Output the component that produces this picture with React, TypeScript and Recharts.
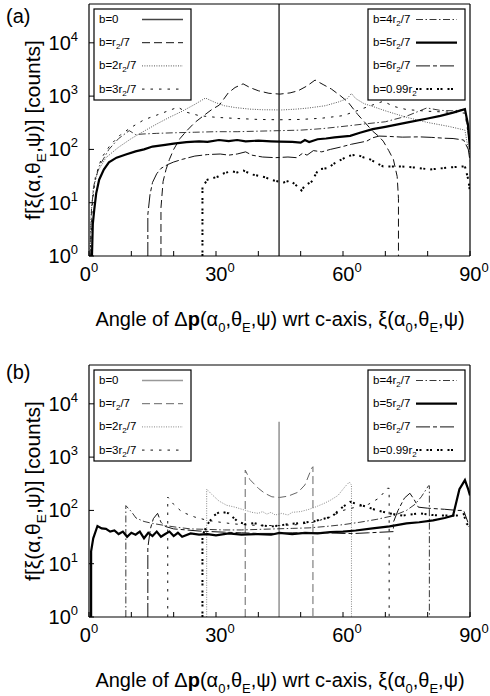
import { Line, LineChart, XAxis, YAxis } from 'recharts'

type Pt = [number, number]

// ---- panel (a): all events, one series per impact parameter b ----
const A_B0: Pt[] = [[44.9, 1], [44.9, 53500]]
const A_B1: Pt[] = [
  [17, 1], [17, 8], [17.5, 25], [18.2, 42], [19, 65], [20, 100], [21.5, 160], [23, 220],
  [25, 320], [27, 425], [29, 560], [30.8, 680], [32.9, 1150], [34.5, 1450], [36.4, 1700],
  [38, 1450], [40, 1260], [42.5, 1130], [45.1, 1090], [47.5, 1150], [49.4, 1260],
  [51.5, 1550], [53.4, 2000], [55.3, 1650], [57.3, 1350], [59.5, 1000], [61.2, 770],
  [63.5, 450], [65.5, 300], [67, 220], [68.3, 180], [69.5, 143], [70.8, 95], [71.9, 65],
  [72.8, 31], [73.1, 12], [73.1, 1],
]
const A_B2: Pt[] = [
  [0.2, 1], [0.5, 6], [1, 18], [2, 38], [4, 70], [7, 110], [10, 160], [13, 220], [16, 300],
  [19, 400], [22, 520], [25, 700], [27.5, 920], [29.8, 760], [32, 660], [34.5, 610],
  [38, 570], [41, 555], [45.5, 550], [49, 570], [52, 600], [55.8, 660], [59, 780],
  [61, 900], [62, 1120], [63, 900], [65, 720], [67, 640], [70, 530], [75, 400], [80, 320],
  [85, 270], [88.8, 230], [89.6, 100], [90, 80],
]
const A_B3: Pt[] = [
  [0.3, 1], [0.8, 10], [1.5, 30], [3, 70], [5, 120], [7.5, 190], [10, 260], [13, 360],
  [16, 440], [19, 540], [21, 620], [23, 500], [26, 430], [30, 400], [35, 380], [40, 365],
  [45, 360], [50, 365], [55, 385], [60, 430], [63, 520], [66, 640], [69.5, 800], [72, 640],
  [75, 560], [80, 520], [85, 500], [88.8, 480], [89.8, 150],
]
const A_B4: Pt[] = [
  [0.3, 1], [0.6, 8], [1.2, 22], [2.4, 48], [4.7, 100], [7, 160], [9.5, 225], [11, 190],
  [13, 195], [16, 200], [20, 205], [25, 210], [30, 215], [35, 215], [40, 220], [45, 225],
  [50, 230], [55, 245], [60, 270], [65, 300], [70, 330], [75, 420], [79.8, 600], [83, 540],
  [86, 530], [88.8, 560], [89.8, 150],
]
const A_B5: Pt[] = [
  [0.7, 1], [0.9, 4], [1.25, 7.5], [1.7, 15], [2.4, 27], [3.5, 42], [4.7, 57], [6.5, 70],
  [8.7, 80], [11, 92], [13, 100], [15, 113], [18, 122], [20, 128], [23, 137], [26, 142],
  [28, 138], [30.7, 150], [33, 143], [35, 150], [37, 142], [40, 146], [43, 142], [45, 140],
  [48, 138], [50, 134], [51, 150], [52, 138], [54, 155], [56, 160], [58, 168], [61.7, 180],
  [64, 205], [67, 240], [70, 265], [75, 318], [80, 380], [83, 425], [86, 490], [88.8, 570],
  [89.5, 300], [90, 100],
]
const A_B6: Pt[] = [
  [13.9, 1], [13.9, 6], [14.4, 14], [15, 24], [16, 35], [17, 44], [18.6, 52], [20, 58],
  [22, 65], [25, 75], [28, 80], [31, 82], [33, 78], [35, 82], [37, 90], [38.5, 78], [41, 72],
  [44, 70], [47, 72], [49, 70], [50.5, 85], [51.5, 78], [53, 95], [55, 90], [57, 100],
  [59.3, 110], [62, 125], [65.6, 143], [67, 165], [68.5, 178], [71, 175], [74, 170],
  [78, 172], [81, 168], [84, 162], [86, 160], [88.5, 150], [89.6, 100], [90, 60],
]
const A_B7: Pt[] = [
  [26.8, 1], [26.8, 20], [28, 27], [30.5, 31], [32, 36], [33.7, 39], [35, 37], [36.5, 40],
  [38.4, 34], [40, 32], [41.6, 30], [43, 27], [44.7, 25], [46, 24], [47.5, 26], [48.7, 22],
  [50.2, 17], [51, 21], [52.6, 25], [54.2, 42], [56.5, 45], [58, 55], [59.7, 65],
  [61.2, 75], [63.2, 80], [65, 70], [66.4, 65], [68, 55], [69.5, 48], [73.5, 48],
  [76.6, 46], [80.6, 42], [83, 44], [85.3, 46], [88.8, 48], [89.6, 27], [90, 16],
]

// ---- panel (b) ----
const B_B0: Pt[] = [[44.9, 1], [44.9, 4600]]
const B_B1: Pt[] = [
  [36.9, 1], [36.9, 570], [38, 380], [40, 260], [41.5, 210], [43.2, 180], [45, 175],
  [47, 185], [49.4, 220], [51, 300], [52.6, 620], [52.9, 660], [52.9, 1],
]
const B_B2: Pt[] = [
  [27.8, 1], [27.8, 250], [29, 200], [30.7, 150], [32.5, 125], [34.5, 115], [37, 100],
  [38.5, 92], [40, 88], [41, 95], [42, 85], [43, 92], [44, 82], [45.5, 88], [47, 82],
  [48, 92], [50, 95], [52, 105], [53.4, 115], [55.5, 135], [57, 155], [58.8, 190],
  [60.5, 280], [61.5, 340], [62, 300], [62, 1],
]
const B_B3: Pt[] = [
  [18.6, 1], [18.6, 178], [20, 130], [22, 93], [25, 75], [28, 65], [31, 60], [34, 56],
  [38, 53], [42, 52], [45, 52], [49, 54], [53, 60], [57, 75], [60, 100], [63, 115],
  [66, 130], [68.5, 170], [70.5, 260], [70.9, 260], [70.9, 1],
]
const B_B4: Pt[] = [
  [8.7, 1], [8.7, 123], [10, 95], [11.1, 72], [13, 62], [15, 57], [18, 52], [21, 48],
  [24, 45], [28, 44], [32, 43], [36, 43], [40, 44], [44, 45], [48, 46], [52, 47], [56, 50],
  [60, 54], [64, 60], [68, 68], [72, 80], [75, 100], [77, 130], [78.5, 180], [80.2, 290],
  [80.4, 290], [80.4, 1],
]
const B_B5: Pt[] = [
  [0.5, 1], [0.5, 17], [1, 30], [2, 51], [3, 46], [4, 45], [5, 40], [6, 42], [7, 36],
  [8, 40], [9, 32], [10, 38], [11, 35], [12, 40], [13, 30], [14, 38], [15, 33], [16, 40],
  [17, 32], [18, 36], [19, 40], [20, 33], [21, 38], [22, 32], [24, 37], [26, 35], [28, 36],
  [30, 34], [33, 37], [36, 35], [40, 36], [43, 35], [45, 38], [48, 36], [51, 38], [54, 37],
  [57, 39], [60, 40], [63, 42], [67, 46], [71, 50], [75, 57], [78, 60], [81.3, 65],
  [84, 72], [86, 80], [87.5, 250], [88.8, 370], [89.5, 260], [90, 190],
]
const B_B6: Pt[] = [
  [13.9, 1], [13.9, 20], [14.5, 45], [15.2, 70], [16.2, 88], [17, 60], [18, 50], [20, 45],
  [23, 43], [26, 41], [29, 40], [32, 39], [36, 38], [40, 37], [44, 37], [48, 38], [52, 38],
  [56, 38], [60, 37], [63, 37], [66, 38], [71.9, 40], [71.9, 60], [73, 100], [74.5, 170],
  [75.8, 210], [76.8, 160], [77.8, 115], [80, 110], [84, 105], [87, 100], [88.5, 100],
  [89.5, 60],
]
const B_B7: Pt[] = [
  [26.8, 1], [26.8, 34], [28, 55], [29.5, 80], [31, 95], [33, 88], [35.2, 61], [37, 55],
  [39, 58], [41, 52], [43, 50], [45, 52], [47, 55], [50, 58], [53, 62], [55.5, 70],
  [57.3, 76], [60, 117], [61.7, 145], [63.5, 130], [65.6, 117], [68, 100], [71, 88],
  [74, 80], [78, 88], [81, 82], [83, 80], [86.9, 80], [88.5, 85], [89.2, 57], [89.8, 50],
]

const X_TICKS = [0, 10, 20, 30, 40, 50, 60, 70, 80, 90]
const X_LABELED = [0, 30, 60, 90]
const Y_TICKS = [1, 10, 100, 1000, 10000]
const Y_MAX = 53500

// legend names: [before subscript, subscript, after]
const NAMES: [string, string, string][] = [
  ['b=0', '', ''],
  ['b=r', '2', '/7'],
  ['b=2r', '2', '/7'],
  ['b=3r', '2', '/7'],
  ['b=4r', '2', '/7'],
  ['b=5r', '2', '/7'],
  ['b=6r', '2', '/7'],
  ['b=0.99r', '2', ''],
]

interface LineStyle {
  stroke: string
  width: number
  dash?: string
}

const STYLES_A: LineStyle[] = [
  { stroke: '#444', width: 1.6 },
  { stroke: '#111', width: 1, dash: '8 4' },
  { stroke: '#555', width: 1, dash: '1 1.4' },
  { stroke: '#111', width: 1, dash: '2.5 6' },
  { stroke: '#222', width: 0.9, dash: '7 2.5 1.5 2.5' },
  { stroke: '#000', width: 2.2 },
  { stroke: '#111', width: 1, dash: '14 3 4 3' },
  { stroke: '#000', width: 2, dash: '2 1.5 2 5' },
]

const STYLES_B: LineStyle[] = [
  { stroke: '#999', width: 1.6 },
  { stroke: '#666', width: 1, dash: '8 4' },
  { stroke: '#888', width: 1, dash: '1 1.4' },
  { stroke: '#111', width: 1, dash: '2.5 6' },
  { stroke: '#222', width: 0.9, dash: '7 2.5 1.5 2.5' },
  { stroke: '#000', width: 2.2 },
  { stroke: '#111', width: 1, dash: '14 3 4 3' },
  { stroke: '#000', width: 2, dash: '2 1.5 2 5' },
]

const FONT = '"Liberation Sans", Arial, Helvetica, sans-serif'
const AXIS_LINE = { stroke: '#000', strokeWidth: 1.2 }
const TICK_LINE = { stroke: '#000', strokeWidth: 1 }

// text runs: '' normal, 's' subscript, 'S' superscript, 'b' bold
type Run = [string, string]

const Y_TITLE: Run[] = [['f[ξ(α,θ', ''], ['E', 's'], [',ψ)] [counts]', '']]
const X_TITLE: Run[] = [
  ['Angle of Δ', ''], ['p', 'b'], ['(α', ''], ['0', 's'], [',θ', ''], ['E', 's'],
  [',ψ) wrt c-axis, ξ(α', ''], ['0', 's'], [',θ', ''], ['E', 's'], [',ψ)', ''],
]

function runs(parts: Run[], size: number) {
  let shift = 0
  return parts.map(([t, k], i) => {
    const target = k === 's' ? size * 0.3 : k === 'S' ? -size * 0.45 : 0
    const dy = target - shift
    shift = target
    const small = k === 's' || k === 'S'
    return (
      <tspan key={i} dy={dy} fontSize={small ? size * 0.65 : size} fontWeight={k === 'b' ? 'bold' : undefined}>
        {t}
      </tspan>
    )
  })
}

function XTick(props: any) {
  const { x, y, payload } = props
  if (!X_LABELED.includes(payload.value)) return <g />
  return (
    <text x={payload.value === 0 ? x : x + 4} y={y} textAnchor="middle" fontFamily={FONT} fill="#000">
      {runs([[String(payload.value), ''], ['0', 'S']], 20)}
    </text>
  )
}

function YTick(props: any) {
  const { x, y, payload } = props
  const exp = Math.round(Math.log10(payload.value))
  return (
    <text x={x} y={y + 7} textAnchor="end" fontFamily={FONT} fill="#000">
      {runs([['10', ''], [String(exp), 'S']], 20)}
    </text>
  )
}

function LegendBox({ x, y, from, styles }: { x: number; y: number; from: number; styles: LineStyle[] }) {
  return (
    <g>
      <rect x={x} y={y} width={97} height={91} fill="#fff" stroke="#000" strokeWidth={1.2} />
      {[0, 1, 2, 3].map((r) => {
        const i = from + r
        const [pre, sub, post] = NAMES[i]
        const st = styles[i]
        const base = y + 14 + r * 23.2
        return (
          <g key={i}>
            <text x={x + 5} y={base} fontSize={11.5} fontFamily={FONT} fill="#000">
              {pre}
              {sub && (
                <tspan dy={3} fontSize={8}>
                  {sub}
                </tspan>
              )}
              {sub && <tspan dy={-3}>{post}</tspan>}
            </text>
            <line
              x1={x + 48}
              x2={x + 89}
              y1={base - 3.5}
              y2={base - 3.5}
              stroke={st.stroke}
              strokeWidth={st.width}
              strokeDasharray={st.dash}
            />
          </g>
        )
      })}
    </g>
  )
}

function Panel({
  tag,
  tagY,
  series,
  styles,
  height,
  plotTop,
}: {
  tag: string
  tagY: number
  series: Pt[][]
  styles: LineStyle[]
  height: number
  plotTop: number
}) {
  const plotBottom = plotTop + 252
  return (
    <div style={{ position: 'relative', width: 490, height }}>
      <LineChart width={490} height={height} margin={{ top: plotTop - 1, right: 19, bottom: 0, left: 0 }}>
        <XAxis
          xAxisId="b"
          dataKey="x"
          type="number"
          domain={[0, 90]}
          ticks={X_TICKS}
          interval={0}
          allowDataOverflow
          height={height - plotBottom}
          tickSize={-5}
          tickMargin={30}
          tick={<XTick />}
          axisLine={AXIS_LINE}
          tickLine={TICK_LINE}
        />
        <XAxis
          xAxisId="t"
          orientation="top"
          type="number"
          domain={[0, 90]}
          ticks={X_TICKS}
          interval={0}
          allowDataOverflow
          height={1}
          tickSize={-5}
          tick={false}
          axisLine={AXIS_LINE}
          tickLine={TICK_LINE}
        />
        <YAxis
          yAxisId="l"
          type="number"
          scale="log"
          domain={[1, Y_MAX]}
          ticks={Y_TICKS}
          interval={0}
          allowDataOverflow
          width={89}
          tickSize={-5}
          tickMargin={16}
          tick={<YTick />}
          axisLine={AXIS_LINE}
          tickLine={TICK_LINE}
        />
        <YAxis
          yAxisId="r"
          orientation="right"
          type="number"
          scale="log"
          domain={[1, Y_MAX]}
          ticks={Y_TICKS}
          interval={0}
          allowDataOverflow
          width={1}
          tickSize={-5}
          tick={false}
          axisLine={AXIS_LINE}
          tickLine={TICK_LINE}
        />
        {series.map((pts, i) => (
          <Line
            key={i}
            xAxisId="b"
            yAxisId="l"
            data={pts.map(([x, y]) => ({ x, y }))}
            dataKey="y"
            type="linear"
            stroke={styles[i].stroke}
            strokeWidth={styles[i].width}
            strokeDasharray={styles[i].dash}
            dot={false}
            activeDot={false}
            isAnimationActive={false}
          />
        ))}
      </LineChart>
      <svg
        width={490}
        height={height}
        style={{ position: 'absolute', left: 0, top: 0, pointerEvents: 'none' }}
      >
        <text x={6} y={tagY} fontSize={20} fontFamily={FONT} fill="#000">
          {tag}
        </text>
        <LegendBox x={94} y={plotTop + 5} from={0} styles={styles} />
        <LegendBox x={368} y={plotTop + 5} from={4} styles={styles} />
        <text
          transform={`translate(40 ${plotTop + 126}) rotate(-90)`}
          textAnchor="middle"
          fontFamily={FONT}
          fill="#000"
        >
          {runs(Y_TITLE, 21)}
        </text>
        <text x={280} y={plotBottom + 70} textAnchor="middle" fontFamily={FONT} fill="#000">
          {runs(X_TITLE, 20)}
        </text>
      </svg>
    </div>
  )
}

export default function App() {
  return (
    <div style={{ width: 490, height: 696, background: '#fff', fontFamily: FONT }}>
      <style>{'body{margin:0}'}</style>
      <Panel
        tag="(a)"
        tagY={23}
        series={[A_B0, A_B1, A_B2, A_B3, A_B4, A_B5, A_B6, A_B7]}
        styles={STYLES_A}
        height={340}
        plotTop={4}
      />
      <Panel
        tag="(b)"
        tagY={39}
        series={[B_B0, B_B1, B_B2, B_B3, B_B4, B_B5, B_B6, B_B7]}
        styles={STYLES_B}
        height={356}
        plotTop={25}
      />
    </div>
  )
}
